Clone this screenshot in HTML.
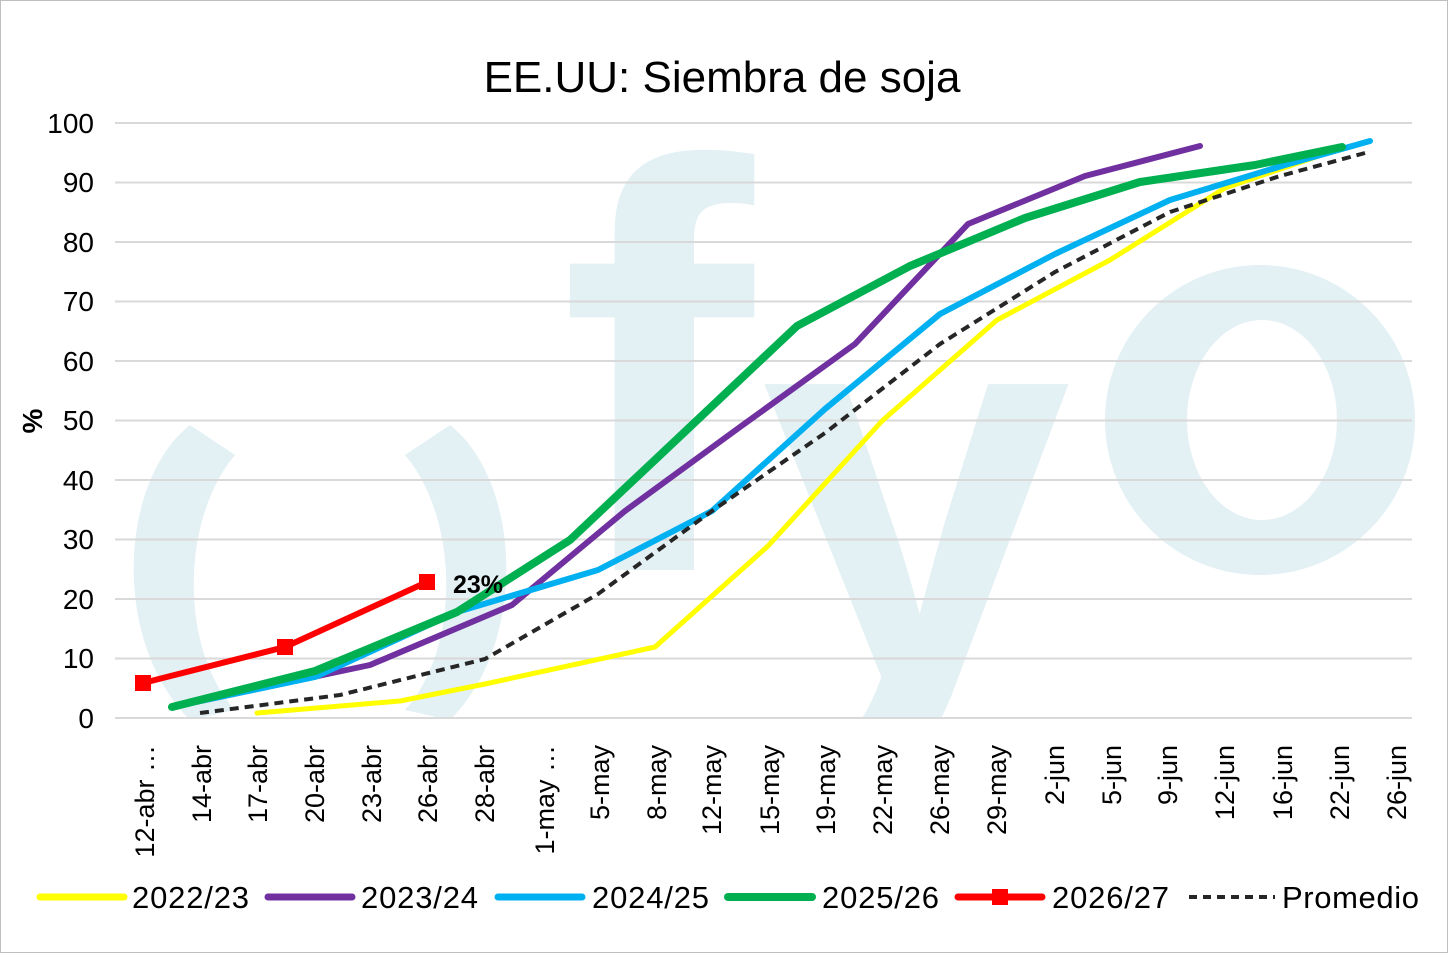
<!DOCTYPE html>
<html><head><meta charset="utf-8"><style>
body{margin:0;background:#fff}
svg{display:block;font-family:"Liberation Sans Narrow","Liberation Sans",sans-serif}
</style></head><body>
<svg width="1448" height="953" viewBox="0 0 1448 953">
<defs><clipPath id="c"><rect x="100" y="100" width="1320" height="618"/></clipPath></defs>
<rect x="0.5" y="0.5" width="1447" height="952" fill="#fff" stroke="#bfbfbf"/>
<g fill="#e3f0f4" clip-path="url(#c)">
<path d="M190 425 C120 480 110 640 190 720 L235 710 C180 650 180 520 235 455 Z"/>
<path d="M450 425 C520 480 530 640 450 720 L405 710 C460 650 460 520 405 455 Z"/>
<text x="560" y="570" font-size="580" font-family="Liberation Sans" font-weight="bold">f</text>
<text x="760" y="680" font-size="560" font-family="Liberation Sans" font-weight="bold">y</text>
<ellipse cx="1260" cy="420" rx="155" ry="155"/>
</g>
<ellipse cx="1262" cy="420" rx="75" ry="100" fill="#fff"/>
<text x="722" y="92" font-size="44" text-anchor="middle" fill="#000">EE.UU: Siembra de soja</text>
<g stroke="#d9d9d9" stroke-width="2">
<line x1="115" x2="1412" y1="123" y2="123"/><line x1="115" x2="1412" y1="182.5" y2="182.5"/>
<line x1="115" x2="1412" y1="242" y2="242"/><line x1="115" x2="1412" y1="301.5" y2="301.5"/>
<line x1="115" x2="1412" y1="361" y2="361"/><line x1="115" x2="1412" y1="420.5" y2="420.5"/>
<line x1="115" x2="1412" y1="480" y2="480"/><line x1="115" x2="1412" y1="539.5" y2="539.5"/>
<line x1="115" x2="1412" y1="599" y2="599"/><line x1="115" x2="1412" y1="658.5" y2="658.5"/>
<line x1="115" x2="1412" y1="718" y2="718"/>
</g>
<g font-size="28" text-anchor="end" fill="#000">
<text x="94" y="133">100</text><text x="94" y="192">90</text><text x="94" y="252">80</text>
<text x="94" y="311">70</text><text x="94" y="371">60</text><text x="94" y="430">50</text>
<text x="94" y="490">40</text><text x="94" y="549">30</text><text x="94" y="609">20</text>
<text x="94" y="668">10</text><text x="94" y="728">0</text>
</g>
<text transform="translate(42,421) rotate(-90)" font-size="28" font-weight="bold" text-anchor="middle">%</text>
<g font-size="27" text-anchor="end" fill="#000">
<text transform="translate(154,745) rotate(-90)">12-abr …</text>
<text transform="translate(211,745) rotate(-90)">14-abr</text>
<text transform="translate(267,745) rotate(-90)">17-abr</text>
<text transform="translate(324,745) rotate(-90)">20-abr</text>
<text transform="translate(381,745) rotate(-90)">23-abr</text>
<text transform="translate(437,745) rotate(-90)">26-abr</text>
<text transform="translate(494,745) rotate(-90)">28-abr</text>
<text transform="translate(554,745) rotate(-90)">1-may …</text>
<text transform="translate(609,745) rotate(-90)">5-may</text>
<text transform="translate(666,745) rotate(-90)">8-may</text>
<text transform="translate(721,745) rotate(-90)">12-may</text>
<text transform="translate(779,745) rotate(-90)">15-may</text>
<text transform="translate(835,745) rotate(-90)">19-may</text>
<text transform="translate(892,745) rotate(-90)">22-may</text>
<text transform="translate(949,745) rotate(-90)">26-may</text>
<text transform="translate(1006,745) rotate(-90)">29-may</text>
<text transform="translate(1064,745) rotate(-90)">2-jun</text>
<text transform="translate(1121,745) rotate(-90)">5-jun</text>
<text transform="translate(1177,745) rotate(-90)">9-jun</text>
<text transform="translate(1234,745) rotate(-90)">12-jun</text>
<text transform="translate(1292,745) rotate(-90)">16-jun</text>
<text transform="translate(1349,745) rotate(-90)">22-jun</text>
<text transform="translate(1406,745) rotate(-90)">26-jun</text>
</g>
<g fill="none" stroke-linejoin="round" stroke-linecap="round">
<polyline stroke="#ffff00" stroke-width="5" points="257,713 400,701 485,684 655,647 768,546 882,421 997,320 1110,260 1225,188 1342,148"/>
<polyline stroke="#7030a0" stroke-width="6" points="172,707 285,683 370,665 512,605 625,511 740,427 855,344 968,224 1085,176 1200,146"/>
<polyline stroke="#00b0f0" stroke-width="6" points="172,707 315,677 457,612 598,570 712,511 825,409 940,314 1055,254 1170,200 1285,165 1370,141"/>
<polyline stroke="#00b050" stroke-width="8" points="172,707 315,671 457,612 570,540 797,326 910,266 1025,218 1140,182 1255,165 1342,147"/>
<polyline stroke="#262626" stroke-width="4" stroke-dasharray="9,6" stroke-linecap="butt" points="200,713 340,695 485,659 598,594 712,511 825,433 940,344 1055,272 1170,212 1280,176 1365,153"/>
<polyline stroke="#ff0000" stroke-width="6" points="143,683 285,647 427,582"/>
</g>
<g fill="#ff0000"><rect x="135" y="675" width="16" height="16"/><rect x="277" y="639" width="16" height="16"/><rect x="419" y="574" width="16" height="16"/></g>
<text x="453" y="593" font-size="25" font-weight="bold">23%</text>
<g stroke-linecap="round">
<line x1="40" y1="897" x2="124" y2="897" stroke="#ffff00" stroke-width="7"/>
<line x1="268" y1="897" x2="352" y2="897" stroke="#7030a0" stroke-width="7"/>
<line x1="498" y1="897" x2="582" y2="897" stroke="#00b0f0" stroke-width="7"/>
<line x1="728" y1="897" x2="812" y2="897" stroke="#00b050" stroke-width="8"/>
<line x1="958" y1="897" x2="1042" y2="897" stroke="#ff0000" stroke-width="7"/>
<line x1="1189" y1="897" x2="1275" y2="897" stroke="#262626" stroke-width="4" stroke-dasharray="8,6" stroke-linecap="butt"/>
</g>
<rect x="992" y="889" width="16" height="16" fill="#ff0000"/>
<g font-size="31" fill="#000">
<text x="132" y="908" textLength="117">2022/23</text>
<text x="361" y="908" textLength="117">2023/24</text>
<text x="592" y="908" textLength="117">2024/25</text>
<text x="822" y="908" textLength="117">2025/26</text>
<text x="1052" y="908" textLength="117">2026/27</text>
<text x="1282" y="908" textLength="137">Promedio</text>
</g>
</svg>
</body></html>
